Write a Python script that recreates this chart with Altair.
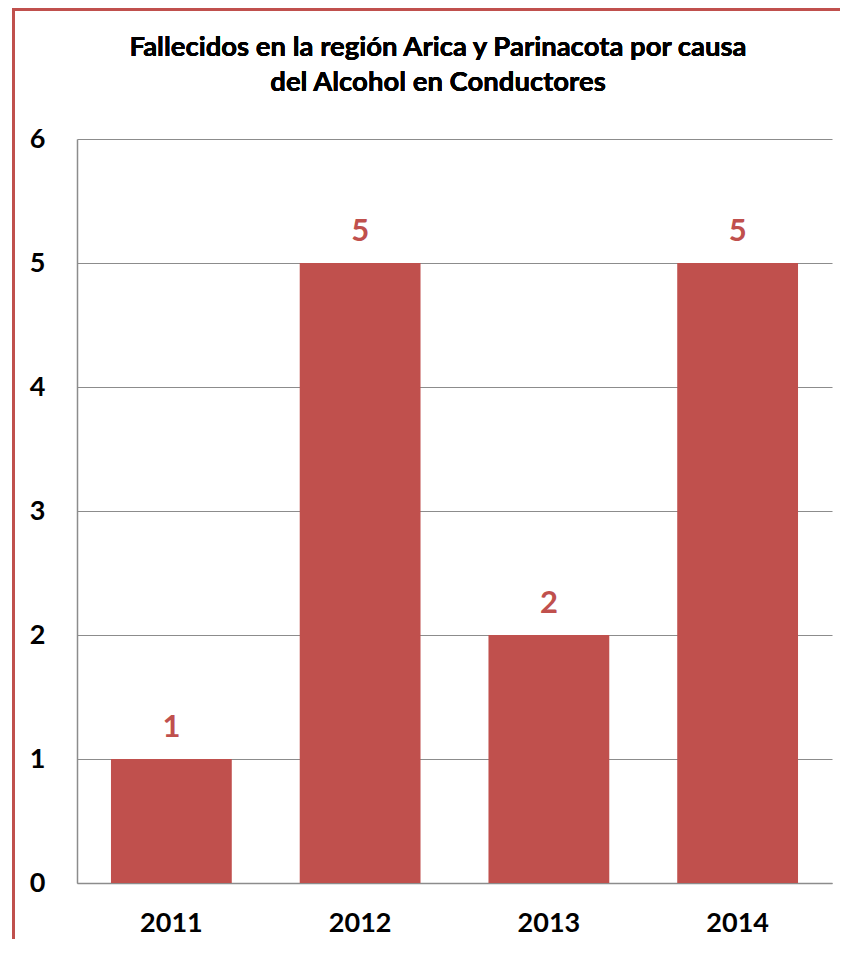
import altair as alt
import pandas as pd

years = ["2011", "2012", "2013", "2014"]
deaths = [1, 5, 2, 5]
y_ticks = [0, 1, 2, 3, 4, 5, 6]
title_lines = ["Fallecidos en la región Arica y Parinacota por causa", "del Alcohol en Conductores"]

df = pd.DataFrame({"year": years, "value": deaths})

RED = "#C0504D"
FONT = "Lato"
W, H = 755, 744

base = alt.Chart(df).encode(
    x=alt.X("year:N", sort=years, title=None,
            scale=alt.Scale(paddingInner=0.36, paddingOuter=0.18),
            axis=alt.Axis(labelAngle=0, labelFont=FONT, labelFontSize=27, labelFontWeight="bold",
                          labelColor="#000000", labelPadding=27, ticks=False,
                          domainColor="#8c8c8c", domainWidth=1.5, grid=False)),
    y=alt.Y("value:Q", title=None,
            scale=alt.Scale(domain=[0, 6], nice=False),
            axis=alt.Axis(values=y_ticks, labelFont=FONT, labelFontSize=27, labelFontWeight="bold",
                          labelColor="#000000", labelPadding=32, ticks=False,
                          domain=True, domainColor="#8c8c8c", domainWidth=1.5,
                          gridColor="#8c8c8c", gridWidth=1.2)),
)

bars = base.mark_bar(color=RED)
labels = base.mark_text(font=FONT, fontSize=31, fontWeight="bold", color=RED,
                        baseline="alphabetic", dy=-22).encode(text="value:Q")

border = alt.Chart(df).mark_rect(fill=None, stroke=RED, strokeWidth=3).encode(
    x=alt.value(-63.5), x2=alt.value(W + 40), y=alt.value(-129.5), y2=alt.value(H + 120))

title1 = alt.Chart(df).mark_text(font=FONT, fontSize=27.5, fontWeight="bold", color="#000000",
                                 baseline="alphabetic", align="center").encode(
    x=alt.value(361), y=alt.value(-83), text=alt.value(title_lines[0]))
title2 = alt.Chart(df).mark_text(font=FONT, fontSize=27.5, fontWeight="bold", color="#000000",
                                 baseline="alphabetic", align="center").encode(
    x=alt.value(361), y=alt.value(-48), text=alt.value(title_lines[1]))

chart = alt.layer(border, bars, labels, title1, title2).properties(
    width=W, height=H,
    padding={"left": 69, "top": 131, "right": 8, "bottom": 56},
    autosize=alt.AutoSizeParams(type="none"),
).configure_view(stroke=None)

chart.save("out.html", embed_options={"renderer": "svg", "actions": False})
